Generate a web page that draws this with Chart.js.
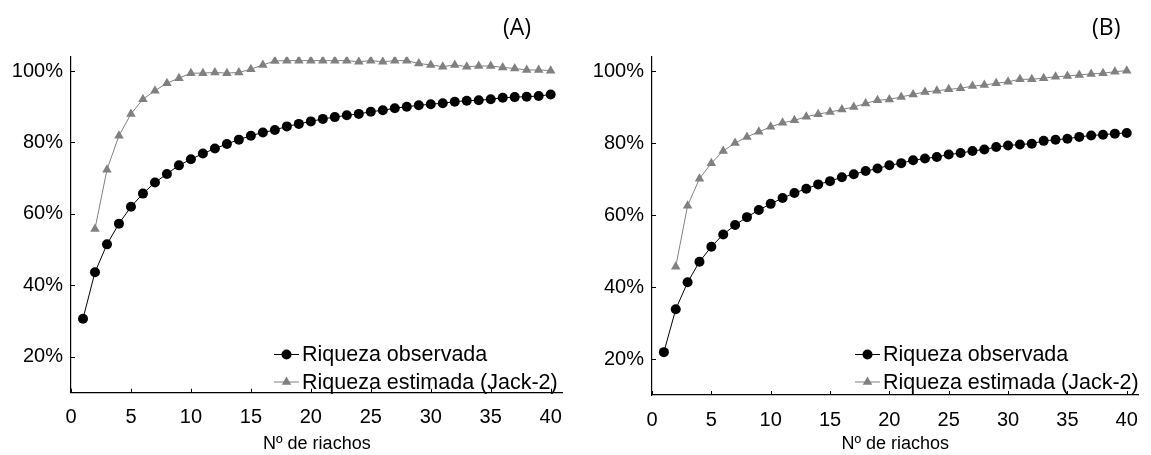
<!DOCTYPE html>
<html>
<head>
<meta charset="utf-8">
<script src="https://cdn.jsdelivr.net/npm/chart.js@4/dist/chart.umd.min.js"></script>
<style>
  body { margin: 0; background: #fff; width: 1151px; height: 455px; overflow: hidden; }
  .panel { position: absolute; top: 0; height: 455px; }
  .tag { position: absolute; top: 10px; font: 23px "Open Sans", sans-serif; color: #000; }
</style>
</head>
<body>
<div class="panel" style="left:0;width:575px"><canvas id="chartA"></canvas></div>
<div class="panel" style="left:575px;width:576px"><canvas id="chartB"></canvas></div>
<div class="tag" style="left:503px">(A)</div>
<div class="tag" style="left:1092px">(B)</div>
<script>
// Nº de riachos
const riachos = [1, 2, 3, 4, 5, 6, 7, 8, 9, 10, 11, 12, 13, 14, 15, 16, 17, 18, 19, 20,
  21, 22, 23, 24, 25, 26, 27, 28, 29, 30, 31, 32, 33, 34, 35, 36, 37, 38, 39, 40];
const xTicks = [0, 5, 10, 15, 20, 25, 30, 35, 40];
const yTicks = [20, 40, 60, 80, 100];
const seriesNames = ["Riqueza observada", "Riqueza estimada (Jack-2)"];

// (A)
const observadaA = [30.7, 43.7, 51.5, 57.3, 62.0, 65.7, 68.8, 71.2, 73.6, 75.3, 76.9, 78.3, 79.6, 80.8,
  81.9, 82.8, 83.5, 84.5, 85.2, 85.9, 86.6, 87.1, 87.6, 88.0, 88.6, 89.0, 89.6, 90.0, 90.4, 90.7,
  91.0, 91.4, 91.7, 91.8, 92.1, 92.5, 92.7, 92.8, 93.0, 93.4];
const estimadaA = [null, 55.8, 72.4, 81.9, 88.0, 92.1, 94.5, 96.6, 98.0, 99.4, 99.4, 99.6, 99.4, 99.6,
  100.5, 101.7, 102.8, 102.9, 102.9, 102.9, 102.9, 102.9, 102.9, 102.6, 102.9, 102.6, 102.9, 102.9,
  102.1, 101.7, 101.2, 101.7, 101.2, 101.4, 101.4, 101.0, 100.7, 100.3, 100.3, 100.1];

// (B)
const observadaB = [21.9, 33.8, 41.3, 47.0, 51.2, 54.6, 57.2, 59.4, 61.4, 63.1, 64.7, 66.1, 67.3, 68.5,
  69.4, 70.5, 71.3, 72.2, 72.9, 73.8, 74.4, 75.2, 75.7, 76.1, 76.8, 77.2, 77.8, 78.2, 78.9, 79.3,
  79.6, 79.8, 80.6, 80.9, 81.2, 81.7, 82.1, 82.3, 82.6, 82.8];
const estimadaB = [null, 45.6, 62.6, 70.1, 74.4, 77.8, 80.0, 81.7, 83.1, 84.5, 85.6, 86.3, 87.3, 88.0,
  88.6, 89.3, 90.0, 91.0, 91.9, 92.1, 92.8, 93.5, 94.2, 94.5, 94.9, 95.2, 95.8, 96.1, 96.6, 97.0,
  97.7, 97.7, 98.0, 98.4, 98.6, 98.9, 99.2, 99.4, 99.8, 100.1];

const FONT = "'Liberation Sans', Arial, sans-serif";
const GREY = "#808080";

function toPoints(values) {
    return riachos.map((x, i) => ({ x, y: values[i] }));
}

function triangle(ctx, x, y, r) {
    ctx.beginPath();
    for (let k = 0; k < 3; k++) {
        const a = k * 2 * Math.PI / 3;
        ctx.lineTo(x + Math.sin(a) * r, y - Math.cos(a) * r);
    }
    ctx.closePath();
    ctx.fill();
}

// small ticks pointing inside + legend inside the plot
const extras = {
    id: "extras",
    afterDraw(chart) {
        const { ctx, chartArea, scales } = chart;
        ctx.save();
        ctx.strokeStyle = "#000";
        ctx.lineWidth = 1;
        ctx.beginPath();
        xTicks.forEach((v) => {
            const px = Math.round(scales.x.getPixelForValue(v)) + 0.5;
            ctx.moveTo(px, chartArea.bottom);
            ctx.lineTo(px, chartArea.bottom - 4);
        });
        yTicks.forEach((v) => {
            const py = Math.round(scales.y.getPixelForValue(v)) + 0.5;
            ctx.moveTo(chartArea.left, py);
            ctx.lineTo(chartArea.left + 4, py);
        });
        ctx.stroke();

        // legend
        const x0 = chartArea.left + 203;
        const rows = [354.5, 382];
        ctx.font = "21.5px " + FONT;
        ctx.textBaseline = "middle";
        ctx.textAlign = "left";
        chart.data.datasets.forEach((ds, i) => {
            const y = rows[i];
            ctx.strokeStyle = ds.borderColor;
            ctx.beginPath();
            ctx.moveTo(x0, y);
            ctx.lineTo(x0 + 25, y);
            ctx.stroke();
            ctx.fillStyle = ds.pointBackgroundColor;
            if (ds.pointStyle === "circle") {
                ctx.beginPath();
                ctx.arc(x0 + 12.5, y, 5, 0, 2 * Math.PI);
                ctx.fill();
            } else {
                triangle(ctx, x0 + 12.5, y, 5.5);
            }
            ctx.fillStyle = "#000";
            ctx.fillText(ds.label, x0 + 28, y + 1);
        });
        ctx.restore();
    },
};

function makeChart(id, observada, estimada, box) {
    return new Chart(document.getElementById(id), {
        type: "line",
        data: {
            datasets: [
                {
                    label: seriesNames[0],
                    data: toPoints(observada),
                    borderColor: "#000",
                    borderWidth: 1,
                    pointStyle: "circle",
                    pointRadius: 5,
                    pointBackgroundColor: "#000",
                    pointBorderWidth: 0,
                },
                {
                    label: seriesNames[1],
                    data: toPoints(estimada),
                    borderColor: GREY,
                    borderWidth: 1,
                    pointStyle: "triangle",
                    pointRadius: 5.5,
                    pointBackgroundColor: GREY,
                    pointBorderWidth: 0,
                    spanGaps: false,
                },
            ],
        },
        options: {
            responsive: true,
            maintainAspectRatio: false,
            animation: false,
            layout: { padding: { top: box.top, right: box.right, left: 0, bottom: 0 } },
            plugins: { legend: { display: false }, tooltip: { enabled: false } },
            scales: {
                x: {
                    type: "linear",
                    min: 0,
                    max: box.xMax,
                    afterBuildTicks: (s) => { s.ticks = xTicks.map((value) => ({ value })); },
                    afterFit: (s) => { s.height = box.bottomH; },
                    grid: { display: false, drawTicks: false },
                    border: { color: "#000", width: 1.2 },
                    ticks: { color: "#000", font: { family: FONT, size: 20 }, padding: 13, maxRotation: 0 },
                    title: {
                        display: true,
                        text: "Nº de riachos",
                        color: "#000",
                        font: { family: FONT, size: 18 },
                        padding: { top: 0, bottom: 0 },
                    },
                },
                y: {
                    min: 10,
                    max: 104,
                    afterBuildTicks: (s) => { s.ticks = yTicks.map((value) => ({ value })); },
                    afterFit: (s) => { s.width = box.left; },
                    grid: { display: false, drawTicks: false },
                    border: { color: "#000", width: 1.2 },
                    ticks: {
                        color: "#000",
                        font: { family: FONT, size: 20 },
                        padding: 8,
                        callback: (v) => v + "%",
                    },
                },
            },
        },
        plugins: [extras],
    });
}

makeChart("chartA", observadaA, estimadaA, { left: 71, right: 8, top: 56.7, bottomH: 62.3, xMax: 41 });
makeChart("chartB", observadaB, estimadaB, { left: 77, right: 2, top: 56.6, bottomH: 60, xMax: 41 });
</script>
</body>
</html>
